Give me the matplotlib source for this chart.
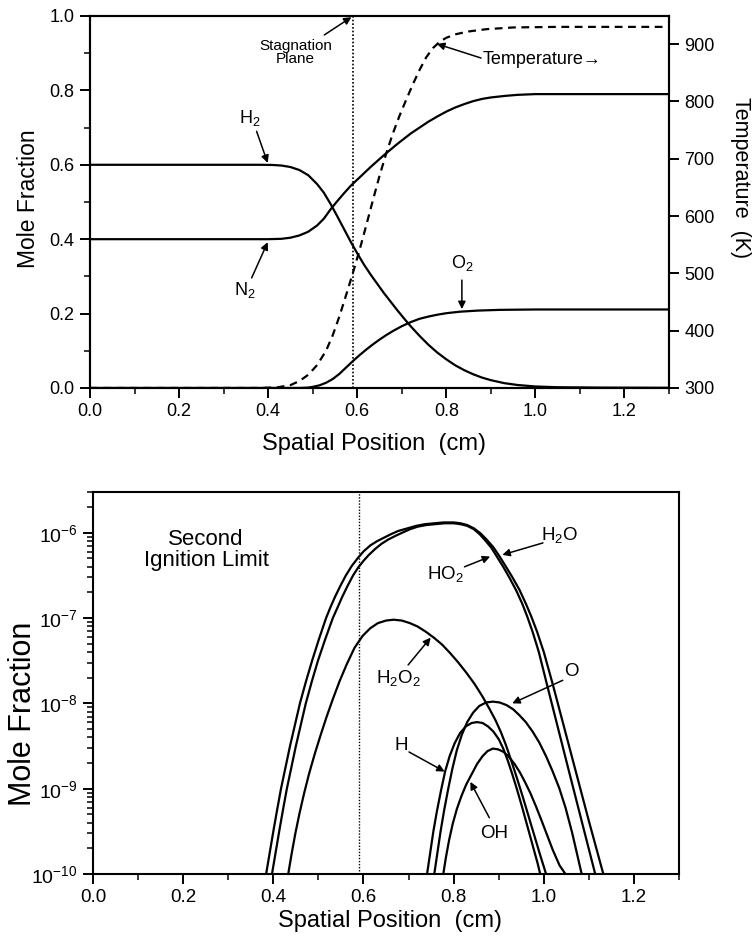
import numpy as np
import matplotlib
matplotlib.use("Agg")
import matplotlib.pyplot as plt
from matplotlib.ticker import MultipleLocator, LogLocator, NullFormatter, LogFormatterMathtext, FormatStrFormatter

plt.rcParams['font.family'] = ['Liberation Sans', 'DejaVu Sans']
plt.rcParams['mathtext.fontset'] = 'custom'
plt.rcParams['mathtext.rm'] = 'Liberation Sans'
plt.rcParams['mathtext.it'] = 'Liberation Sans'
plt.rcParams['mathtext.bf'] = 'Liberation Sans:bold'

# ---------------- top panel data ----------------
h2_x = [0.0, 0.2, 0.38, 0.41, 0.43, 0.45, 0.47, 0.49, 0.51, 0.525, 0.54, 0.555, 0.57, 0.585, 0.60, 0.615,
        0.63, 0.645, 0.66, 0.675, 0.69, 0.705, 0.72, 0.74, 0.76, 0.78, 0.80, 0.82, 0.84, 0.86, 0.88, 0.90,
        0.93, 0.96, 1.0, 1.05, 1.15, 1.3]
h2_y = [0.6, 0.6, 0.6, 0.5995, 0.598, 0.594, 0.586, 0.572, 0.548, 0.525, 0.495, 0.462, 0.428, 0.394, 0.362, 0.332,
        0.305, 0.28, 0.255, 0.232, 0.209, 0.187, 0.166, 0.14, 0.116, 0.095, 0.077, 0.061, 0.048, 0.037, 0.028, 0.021,
        0.013, 0.008, 0.004, 0.002, 0.001, 0.0005]

n2_x = [0.0, 0.2, 0.4, 0.43, 0.45, 0.47, 0.49, 0.51, 0.525, 0.54, 0.555, 0.57, 0.585, 0.60, 0.615, 0.63,
        0.645, 0.66, 0.675, 0.69, 0.705, 0.72, 0.74, 0.76, 0.78, 0.80, 0.82, 0.84, 0.86, 0.88, 0.90, 0.93,
        0.96, 1.0, 1.3]
n2_y = [0.4, 0.4, 0.4, 0.401, 0.404, 0.41, 0.42, 0.437, 0.455, 0.48, 0.502, 0.523, 0.543, 0.56, 0.577, 0.594,
        0.61, 0.626, 0.641, 0.656, 0.67, 0.684, 0.70, 0.716, 0.73, 0.743, 0.754, 0.763, 0.771, 0.777, 0.781, 0.785,
        0.788, 0.79, 0.79]

o2_x = [0.0, 0.2, 0.47, 0.49, 0.50, 0.515, 0.53, 0.545, 0.56, 0.575, 0.59, 0.605, 0.62, 0.635, 0.65, 0.665,
        0.68, 0.70, 0.72, 0.74, 0.76, 0.78, 0.80, 0.83, 0.87, 0.92, 1.0, 1.3]
o2_y = [0.0, 0.0, 0.0, 0.001, 0.003, 0.007, 0.014, 0.024, 0.038, 0.055, 0.072, 0.088, 0.103, 0.117, 0.13, 0.142,
        0.153, 0.166, 0.177, 0.186, 0.192, 0.197, 0.201, 0.205, 0.208, 0.21, 0.211, 0.211]

temp_x = [0.0, 0.2, 0.38, 0.42, 0.45, 0.47, 0.49, 0.51, 0.53, 0.545, 0.56, 0.575, 0.59, 0.605, 0.62, 0.635,
          0.65, 0.665, 0.68, 0.695, 0.71, 0.725, 0.74, 0.755, 0.77, 0.785, 0.80, 0.82, 0.85, 0.89, 0.95, 1.05, 1.3]
temp_k = [300, 300, 300, 301, 305, 312, 323, 340, 365, 392, 425, 462, 500, 540, 583, 627,
          670, 709, 744, 775, 803, 830, 855, 877, 893, 904, 911, 917, 922, 926, 929, 930, 930]

stagnation_x = 0.59

# ---------------- bottom panel data (log10 of mole fraction) ----------------
h2o_x = [0.384, 0.392, 0.400, 0.408, 0.417, 0.427, 0.437, 0.448, 0.459, 0.472, 0.486, 0.501, 0.517, 0.527,
         0.537, 0.549, 0.561, 0.574, 0.587, 0.600, 0.615, 0.630, 0.645, 0.660, 0.677, 0.697, 0.717, 0.737,
         0.757, 0.778, 0.800, 0.815, 0.830, 0.845, 0.860, 0.873, 0.888, 0.902, 0.915, 0.930, 0.946, 0.960,
         0.972, 0.985, 1.000, 1.020, 1.045, 1.070, 1.100, 1.132]
h2o_l = [-10.0, -9.75, -9.5, -9.26, -9.0, -8.75, -8.5, -8.25, -8.0, -7.75, -7.5, -7.25, -7.0, -6.87,
         -6.75, -6.62, -6.5, -6.39, -6.3, -6.22, -6.15, -6.1, -6.06, -6.02, -5.98, -5.95, -5.92, -5.9,
         -5.89, -5.88, -5.88, -5.89, -5.91, -5.95, -6.01, -6.08, -6.17, -6.28, -6.39, -6.52, -6.67, -6.83,
         -6.98, -7.16, -7.40, -7.78, -8.28, -8.78, -9.38, -10.0]

ho2_x = [0.397, 0.405, 0.413, 0.421, 0.430, 0.440, 0.450, 0.461, 0.472, 0.485, 0.499, 0.515, 0.532, 0.543,
         0.553, 0.565, 0.577, 0.588, 0.600, 0.612, 0.626, 0.640, 0.655, 0.670, 0.686, 0.703, 0.720, 0.740,
         0.760, 0.780, 0.800, 0.815, 0.830, 0.845, 0.858, 0.870, 0.884, 0.897, 0.910, 0.924, 0.939, 0.952,
         0.963, 0.975, 0.989, 1.007, 1.031, 1.055, 1.084, 1.114]
ho2_l = [-10.0, -9.75, -9.5, -9.26, -9.0, -8.75, -8.5, -8.25, -8.0, -7.75, -7.5, -7.25, -7.0, -6.87,
         -6.75, -6.62, -6.5, -6.41, -6.33, -6.26, -6.19, -6.13, -6.08, -6.04, -6.0, -5.96, -5.93, -5.91,
         -5.9, -5.89, -5.89, -5.9, -5.92, -5.96, -6.02, -6.09, -6.18, -6.29, -6.40, -6.53, -6.68, -6.83,
         -6.98, -7.16, -7.40, -7.78, -8.28, -8.78, -9.38, -10.0]

h2o2_x = [0.433, 0.441, 0.449, 0.458, 0.468, 0.479, 0.492, 0.505, 0.518, 0.532, 0.547, 0.563, 0.58, 0.598,
          0.615, 0.632, 0.65, 0.667, 0.685, 0.703, 0.72, 0.738, 0.756, 0.774, 0.792, 0.81, 0.828, 0.846,
          0.864, 0.88, 0.893, 0.905, 0.916, 0.927, 0.94, 0.953, 0.966, 0.979, 0.992, 1.005]
h2o2_l = [-10.0, -9.75, -9.52, -9.29, -9.06, -8.83, -8.59, -8.37, -8.16, -7.95, -7.74, -7.54, -7.35, -7.21,
          -7.12, -7.06, -7.03, -7.02, -7.03, -7.06, -7.1, -7.16, -7.23, -7.31, -7.41, -7.52, -7.64, -7.77,
          -7.92, -8.07, -8.2, -8.34, -8.49, -8.66, -8.87, -9.09, -9.32, -9.55, -9.78, -10.0]

h_x = [0.741, 0.748, 0.755, 0.763, 0.772, 0.781, 0.791, 0.802, 0.814, 0.827, 0.84, 0.852, 0.864, 0.876,
       0.888, 0.9, 0.91, 0.92, 0.93, 0.94, 0.951, 0.962, 0.974, 0.986, 0.992]
h_l = [-10.0, -9.75, -9.5, -9.26, -9.02, -8.8, -8.62, -8.47, -8.35, -8.27, -8.23, -8.22, -8.23, -8.27,
       -8.33, -8.42, -8.53, -8.67, -8.83, -9.0, -9.2, -9.41, -9.64, -9.87, -10.0]

o_x = [0.757, 0.764, 0.771, 0.779, 0.788, 0.797, 0.807, 0.818, 0.83, 0.843, 0.857, 0.872, 0.887, 0.902,
       0.917, 0.932, 0.946, 0.96, 0.975, 0.99, 1.005, 1.019, 1.034, 1.048, 1.063, 1.084]
o_l = [-10.0, -9.75, -9.5, -9.25, -9.0, -8.77, -8.55, -8.37, -8.22, -8.11, -8.03, -7.99, -7.98, -7.99,
       -8.02, -8.07, -8.14, -8.22, -8.33, -8.46, -8.62, -8.79, -8.99, -9.22, -9.52, -10.0]

oh_x = [0.777, 0.783, 0.79, 0.798, 0.807, 0.817, 0.828, 0.84, 0.852, 0.864, 0.875, 0.887, 0.899, 0.911,
        0.923, 0.935, 0.947, 0.958, 0.97, 0.982, 0.994, 1.007, 1.02, 1.035, 1.048]
oh_l = [-10.0, -9.8, -9.6, -9.41, -9.24, -9.09, -8.95, -8.83, -8.71, -8.62, -8.56, -8.53, -8.54, -8.57,
        -8.63, -8.71, -8.81, -8.92, -9.05, -9.2, -9.36, -9.54, -9.72, -9.9, -10.0]

bottom_series = [(h2o_x, h2o_l), (ho2_x, ho2_l), (h2o2_x, h2o2_l), (h_x, h_l), (o_x, o_l), (oh_x, oh_l)]

xticks = [0.0, 0.2, 0.4, 0.6, 0.8, 1.0, 1.2]
temp_ticks = [300, 400, 500, 600, 700, 800, 900]

# ---------------- figure ----------------
fig = plt.figure(figsize=(7.52, 9.41), dpi=100)
ax1 = fig.add_axes([0.1197, 0.5877, 0.7699, 0.3953])
ax2 = fig.add_axes([0.1237, 0.0712, 0.7793, 0.4060])

LW = 1.6
arrowkw = dict(arrowstyle='-|>', color='black', lw=1.1, mutation_scale=11, shrinkA=0, shrinkB=0)

for ax, ls in ((ax1, 13), (ax2, 13.5)):
    for s in ax.spines.values():
        s.set_linewidth(1.5)
    ax.set_xlim(0, 1.3)
    ax.set_xticks(xticks)
    ax.set_xticklabels([f"{v:.1f}" for v in xticks])
    ax.xaxis.set_minor_locator(MultipleLocator(0.1))
    ax.tick_params(axis='both', which='major', direction='out', length=7, width=1.4, labelsize=ls, pad=4)
    ax.tick_params(axis='both', which='minor', direction='out', length=4, width=1.1)
    ax.tick_params(top=False, right=False, which='both')

# top
ax1.set_ylim(0, 1.0)
ax1.yaxis.set_major_locator(MultipleLocator(0.2))
ax1.yaxis.set_minor_locator(MultipleLocator(0.1))
ax1.yaxis.set_major_formatter(FormatStrFormatter('%.1f'))
ax1.plot(h2_x, h2_y, color='black', lw=LW)
ax1.plot(n2_x, n2_y, color='black', lw=LW)
ax1.plot(o2_x, o2_y, color='black', lw=LW)
ax1.axvline(stagnation_x, color='black', lw=1.2, ls=(0, (1.0, 1.2)))
ax1.set_ylabel('Mole Fraction', fontsize=16.5, va='center', ha='center')
ax1.yaxis.set_label_coords(-0.107, 0.51)
ax1.set_xlabel('Spatial Position  (cm)', fontsize=17, va='center', ha='center')
ax1.xaxis.set_label_coords(0.49, -0.15)

axT = ax1.twinx()
axT.set_position(ax1.get_position())
axT.set_ylim(300, 949)
axT.set_yticks(temp_ticks)
axT.plot(temp_x, temp_k, color='black', lw=LW, ls=(0, (3.5, 2.5)))
axT.tick_params(axis='y', direction='out', length=7, width=1.4, labelsize=13, pad=4)
axT.set_ylabel('Temperature  (K)', fontsize=15.5, rotation=-90, va='center', ha='center')
axT.yaxis.set_label_coords(1.124, 0.567)
for s in axT.spines.values():
    s.set_linewidth(1.5)

ax1.text(0.461, 0.902, 'Stagnation\nPlane', fontsize=11, ha='center', va='center', linespacing=0.9)
ax1.annotate('', xy=(0.587, 0.997), xytext=(0.526, 0.949), arrowprops=arrowkw)
ax1.text(0.358, 0.726, 'H$_2$', fontsize=13, ha='center', va='center')
ax1.annotate('', xy=(0.399, 0.605), xytext=(0.374, 0.69), arrowprops=arrowkw)
ax1.text(0.347, 0.263, 'N$_2$', fontsize=13, ha='center', va='center')
ax1.annotate('', xy=(0.399, 0.392), xytext=(0.363, 0.296), arrowprops=arrowkw)
ax1.text(0.835, 0.336, 'O$_2$', fontsize=13, ha='center', va='center')
ax1.annotate('', xy=(0.835, 0.212), xytext=(0.835, 0.29), arrowprops=arrowkw)
ax1.text(0.882, 0.882, 'Temperature\u2192', fontsize=13, ha='left', va='center',
         family=['Liberation Sans', 'DejaVu Sans'])
ax1.annotate('', xy=(0.779, 0.925), xytext=(0.878, 0.887), arrowprops=arrowkw)

# bottom
ax2.set_yscale('log')
ax2.set_ylim(1e-10, 3e-6)
ax2.yaxis.set_major_locator(LogLocator(base=10, numticks=20))
ax2.yaxis.set_minor_locator(LogLocator(base=10, subs=np.arange(2, 10), numticks=20))
ax2.yaxis.set_minor_formatter(NullFormatter())
ax2.yaxis.set_major_formatter(LogFormatterMathtext())
ax2.tick_params(axis='y', which='major', length=7, labelsize=14)
ax2.tick_params(axis='y', which='minor', length=4)
for xs, lg in bottom_series:
    ax2.plot(xs, 10.0 ** np.array(lg), color='black', lw=LW)
ax2.axvline(stagnation_x, color='black', lw=1.0, ls=(0, (1.0, 1.2)))
ax2.set_ylabel('Mole Fraction', fontsize=22, va='center', ha='center')
ax2.yaxis.set_label_coords(-0.119, 0.42)
ax2.set_xlabel('Spatial Position  (cm)', fontsize=17, va='center', ha='center')
ax2.xaxis.set_label_coords(0.507, -0.122)

ax2.text(0.251, 10 ** -6.2, 'Second\nIgnition Limit', fontsize=16, ha='center', va='center', linespacing=1.0)

def lab(text, txy, sxy, exy):
    ax2.text(txy[0], 10 ** txy[1], text, fontsize=13.5, ha='center', va='center')
    ax2.annotate('', xy=(exy[0], 10 ** exy[1]), xytext=(sxy[0], 10 ** sxy[1]), arrowprops=arrowkw)

lab('H$_2$O', (1.035, -6.03), (0.998, -6.12), (0.908, -6.26))
lab('HO$_2$', (0.782, -6.49), (0.824, -6.40), (0.881, -6.28))
lab('H$_2$O$_2$', (0.677, -7.70), (0.699, -7.55), (0.749, -7.23))
lab('O', (1.062, -7.63), (1.042, -7.73), (0.930, -8.0))
lab('H', (0.684, -8.49), (0.701, -8.57), (0.780, -8.80))
lab('OH', (0.890, -9.52), (0.879, -9.34), (0.837, -8.92))

fig.savefig('out.png', dpi=100)
